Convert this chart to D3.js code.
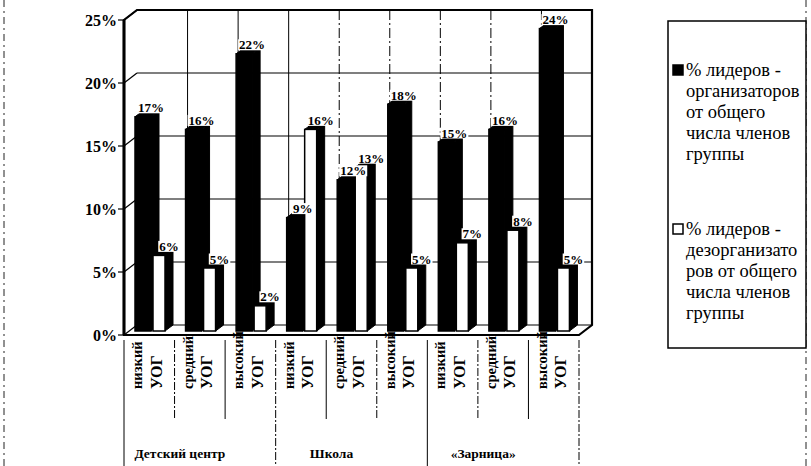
<!DOCTYPE html>
<html>
<head>
<meta charset="utf-8">
<script src="https://d3js.org/d3.v7.min.js"></script>
<style>
	body { margin: 0; background: #fff; }
</style>
</head>
<body>
<div id="chart"></div>
<script>
// Data
var groups = ["Детский центр", "Школа", "«Зарница»"];
var levels = ["низкий", "средний", "высокий"];
var levelSuffix = "УОГ";
var organizers = [17, 16, 22, 9, 12, 18, 15, 16, 24];
var disorganizers = [6, 5, 2, 16, 13, 5, 7, 8, 5];
var yTicks = [0, 5, 10, 15, 20, 25];
var legendLines1 = ["% лидеров -", "организаторов", "от общего", "числа членов", "группы"];
var legendLines2 = ["% лидеров -", "дезорганизато", "ров от общего", "числа членов", "группы"];

var width = 811, height = 466;
var serif = "'Liberation Serif'";

// categories = group x level
var categories = [];
groups.forEach(function(g, gi){
	levels.forEach(function(l, li){ categories.push({id: gi*3+li, group: g, level: l}); });
});
var catIds = categories.map(function(c){ return c.id; });

// 3D depth offsets (back wall and bars)
var wallDx = 13, wallDy = -10;
var barOx = 5, barOy = -4;
var sideDx = 8, sideDy = -6;

var y = d3.scaleLinear().domain([0, 25]).range([335, 20]);
var x = d3.scaleBand().domain(catIds).range([124, 579]);

var svg = d3.select("#chart").append("svg")
	.attr("width", width).attr("height", height);

function addText(sel){
	return sel.append("text").style("font-family", serif);
}

// scanned page borders
svg.append("line").attr("x1", 4).attr("x2", 4).attr("y1", 0).attr("y2", height)
	.attr("stroke", "#222").attr("stroke-width", 1).attr("stroke-dasharray", "7,4,2,4");
svg.append("line").attr("x1", 806).attr("x2", 806).attr("y1", 0).attr("y2", height)
	.attr("stroke", "#222").attr("stroke-width", 1).attr("stroke-dasharray", "7,4,2,4");

var x0 = x.range()[0], x1 = x.range()[1];

// back wall
svg.append("rect")
	.attr("x", x0 + wallDx).attr("y", y(25) + wallDy)
	.attr("width", x1 - x0).attr("height", y(0) - y(25))
	.attr("fill", "#fff");

// horizontal gridlines on back wall and left wall
yTicks.forEach(function(t){
	svg.append("line")
		.attr("x1", x0 + wallDx).attr("x2", x1 + wallDx)
		.attr("y1", y(t) + wallDy).attr("y2", y(t) + wallDy)
		.attr("stroke", "#000").attr("stroke-width", 1.2);
	svg.append("line")
		.attr("x1", x0).attr("x2", x0 + wallDx)
		.attr("y1", y(t)).attr("y2", y(t) + wallDy)
		.attr("stroke", "#000").attr("stroke-width", 1.2);
	// tick mark
	svg.append("line")
		.attr("x1", x0 - 6).attr("x2", x0)
		.attr("y1", y(t)).attr("y2", y(t))
		.attr("stroke", "#000").attr("stroke-width", 1.2);
});

// vertical gridlines on back wall
catIds.slice(1).forEach(function(c){
	svg.append("line")
		.attr("x1", x(c) + wallDx).attr("x2", x(c) + wallDx)
		.attr("y1", y(25) + wallDy).attr("y2", y(0) + wallDy)
		.attr("stroke", "#000").attr("stroke-width", 1)
		.attr("stroke-dasharray", c > 3 ? "10,3,2,3" : null);
});

// wall / floor outline
var outline = "M" + x0 + "," + y(0) + " L" + x0 + "," + y(25) +
	" L" + (x0 + wallDx) + "," + (y(25) + wallDy) +
	" L" + (x1 + wallDx) + "," + (y(25) + wallDy) +
	" L" + (x1 + wallDx) + "," + (y(0) + wallDy) +
	" L" + x1 + "," + y(0) + " Z";
svg.append("path").attr("d", outline)
	.attr("fill", "none").attr("stroke", "#000").attr("stroke-width", 2.2);
svg.append("line")
	.attr("x1", x0).attr("x2", x0).attr("y1", y(0)).attr("y2", y(25))
	.attr("stroke", "#000").attr("stroke-width", 3);

// draws one 3D column: front face, side and top
function drawColumn(bx, w, v, frontFill){
	var yb = y(0) + barOy, yt = y(v) + barOy;
	var g = svg.append("g");
	g.append("path")
		.attr("d", "M" + (bx + w) + "," + yb + " L" + (bx + w) + "," + yt +
			" L" + (bx + w + sideDx) + "," + (yt + sideDy) +
			" L" + (bx + w + sideDx) + "," + (yb + sideDy) + " Z")
		.attr("fill", "#000").attr("stroke", "#000");
	g.append("path")
		.attr("d", "M" + bx + "," + yt + " L" + (bx + sideDx) + "," + (yt + sideDy) +
			" L" + (bx + w + sideDx) + "," + (yt + sideDy) +
			" L" + (bx + w) + "," + yt + " Z")
		.attr("fill", "#000").attr("stroke", "#000");
	g.append("rect")
		.attr("x", bx).attr("y", yt).attr("width", w).attr("height", yb - yt)
		.attr("fill", frontFill).attr("stroke", "#000").attr("stroke-width", 1.5);
}

var labels = [];
categories.forEach(function(c, i){
	var bxBlack = x(c.id) + 6 + barOx, wBlack = 16;
	var bxWhite = x(c.id) + 24 + barOx, wWhite = 12;
	drawColumn(bxBlack, wBlack, organizers[i], "#000");
	drawColumn(bxWhite, wWhite, disorganizers[i], "#fff");
	labels.push({x: bxBlack + wBlack/2 + sideDx, v: organizers[i]});
	labels.push({x: bxWhite + wWhite/2 + sideDx + 2, v: disorganizers[i]});
});

// data labels with white background
labels.forEach(function(d){
	var yy = y(d.v) + barOy + sideDy + 1.5;
	var t = addText(svg)
		.attr("x", d.x).attr("y", yy)
		.attr("text-anchor", "middle")
		.attr("font-size", 13).attr("font-weight", "bold")
		.text(d.v + "%");
	var bb = t.node().getBBox();
	svg.insert("rect", function(){ return t.node(); })
		.attr("x", bb.x - 1).attr("y", bb.y + 2)
		.attr("width", bb.width + 2).attr("height", bb.height - 4)
		.attr("fill", "#fff");
});

// y axis labels
yTicks.forEach(function(t){
	addText(svg)
		.attr("x", 117).attr("y", y(t))
		.attr("dy", "0.35em")
		.attr("text-anchor", "end")
		.attr("font-size", 16).attr("font-weight", "bold")
		.text(t + "%");
});

// category labels (rotated, two lines)
categories.forEach(function(c){
	var cx = x(c.id);
	[c.level, levelSuffix].forEach(function(s, k){
		var tx = cx + 13 + k*19, ty = 389;
		addText(svg)
			.attr("transform", "translate(" + tx + "," + ty + ") rotate(-90)")
			.attr("dy", "0.35em")
			.attr("font-size", k ? 16 : 14.5).attr("font-weight", "bold")
			.text(s);
	});
});

// dividers under the axis
d3.range(10).forEach(function(i){
	var xx = i < 9 ? x(i) : x1;
	var full = (i % 3 === 0);
	svg.append("line")
		.attr("x1", xx).attr("x2", xx)
		.attr("y1", 340).attr("y2", full ? height : 419)
		.attr("stroke", "#000").attr("stroke-width", 1)
		.attr("stroke-dasharray", (i % 2 === 0) ? null : "8,2,2,2");
});

// group labels
groups.forEach(function(g, gi){
	var gx = x(gi*3) + x.bandwidth()*1.5 - 20;
	addText(svg)
		.attr("x", gx).attr("y", 458)
		.attr("text-anchor", "middle")
		.attr("font-size", 13.5).attr("font-weight", "bold")
		.text(g);
});

// legend
var legend = svg.append("g");
legend.append("rect")
	.attr("x", 668).attr("y", 21).attr("width", 138).attr("height", 327)
	.attr("fill", "#fff").attr("stroke", "#000").attr("stroke-width", 1.5);

function legendItem(lines, top, fill){
	legend.append("rect")
		.attr("x", 673).attr("y", top - 5).attr("width", 10).attr("height", 10)
		.attr("fill", fill).attr("stroke", "#000").attr("stroke-width", 1.5);
	lines.forEach(function(s, k){
		addText(legend)
			.attr("x", 686).attr("y", top + k*21)
			.attr("dy", "0.35em")
			.attr("font-size", 18.5)
			.text(s);
	});
}
legendItem(legendLines1, 70, "#000");
legendItem(legendLines2, 229, "#fff");
</script>
</body>
</html>
